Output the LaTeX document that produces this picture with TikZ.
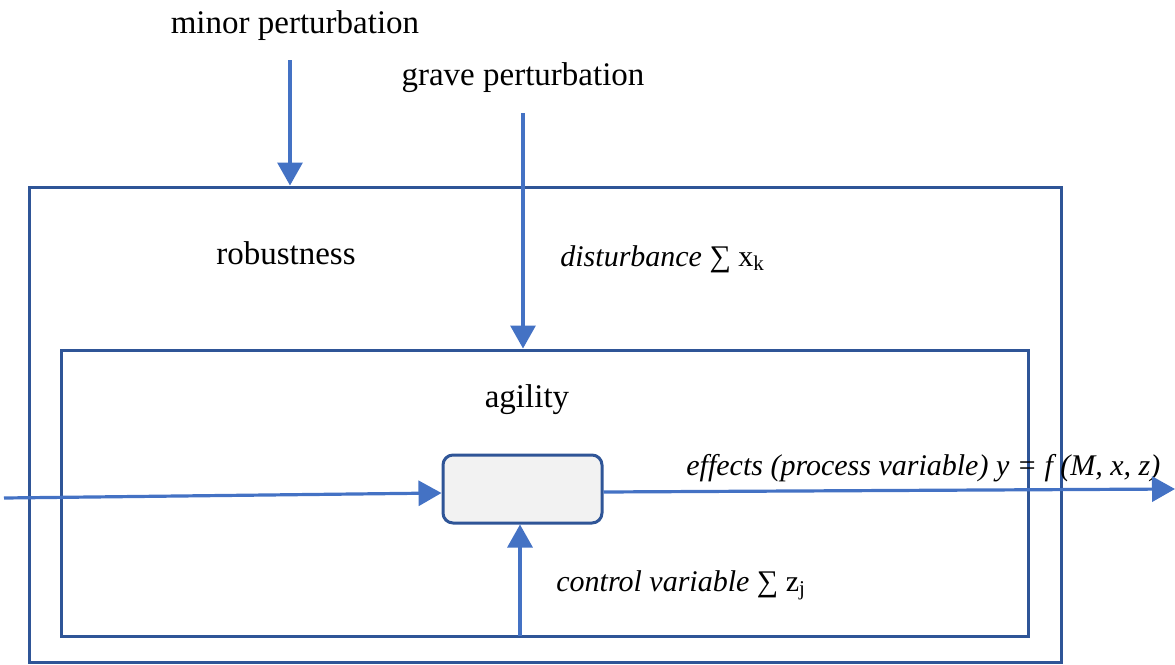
\documentclass[tikz,border=0pt]{standalone}
\usepackage{fontspec}
\setmainfont{Liberation Serif}
\usetikzlibrary{arrows.meta}
\definecolor{framecol}{HTML}{2F5597}
\definecolor{arrowcol}{HTML}{4472C4}
\definecolor{procfill}{HTML}{F2F2F2}
\begin{document}
\begin{tikzpicture}[x=0.5pt,y=-0.5pt,
  every node/.style={font=\fontsize{16.5}{20}\selectfont, inner sep=0pt},
  frame/.style={draw=framecol, line width=1.5pt, rectangle},
  flow/.style={draw=arrowcol, line width=1.6pt,
    -{Triangle[length=11.5pt,width=12.5pt]}},
  label/.style={anchor=west, font=\fontsize{15}{18}\selectfont}]
\useasboundingbox (0,0) rectangle (1175,665);

% nested boundaries and the process block
\node[frame, minimum width=516pt, minimum height=237.5pt] (outer) at (545,424.5) {};
\node[frame, minimum width=483.5pt, minimum height=143pt] (inner) at (544.5,493) {};
\node[frame, fill=procfill, rounded corners=5pt,
      minimum width=79.5pt, minimum height=34pt] (proc) at (522.5,489) {};

% texts
\node (minor) at (295,26) {minor perturbation};
\node (grave) at (523,78) {grave perturbation};
\node (rob) at (286,253) {robustness};
\node (agi) at (527,400) {agility};
\node[label] (dist) at (560,259) {\textit{disturbance} ∑ x\textsubscript{k}};
\node[label] (eff) at (686,468) {\textit{effects (process variable) y = f (M, x, z)}};
\node[label] (ctl) at (556,585) {\textit{control variable} ∑ z\textsubscript{j}};

% free ends of the connectors
\coordinate (mstart) at (290,60);
\coordinate (gstart) at (523,113);
\coordinate (inp) at (4,498);
\coordinate (outp) at (1175,489);
\coordinate (cstart) at (520,636);

% connectors
\draw[flow] (mstart) -- (mstart |- outer.north);
\draw[flow] (gstart) -- (gstart |- inner.north);
\draw[flow] (inp) -- ([yshift=-2pt]proc.west);
\draw[flow] ([yshift=-1.5pt]proc.east) -- (outp);
\draw[flow] (cstart) -- (cstart |- proc.south);
\end{tikzpicture}
\end{document}
